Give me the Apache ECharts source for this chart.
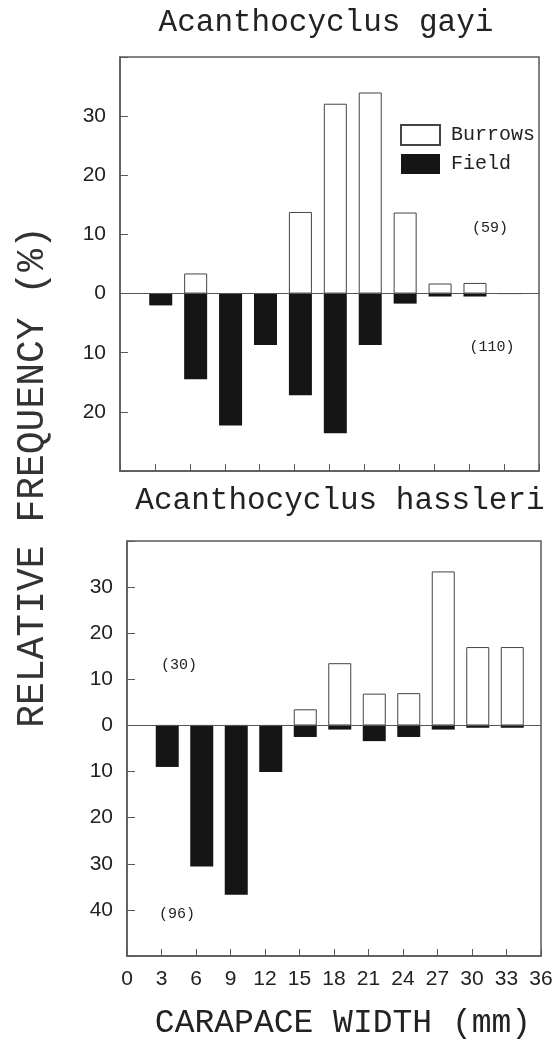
<!DOCTYPE html>
<html>
<head>
<meta charset="utf-8">
<script src="https://cdn.jsdelivr.net/npm/echarts@6/dist/echarts.min.js"></script>
<style>
  html, body { margin: 0; padding: 0; background: #fff; }
  #chart { width: 560px; height: 1042px; }
</style>
</head>
<body>
<div id="chart"></div>
<script>
// ---- data ----
const binMid = [3.5, 6.5, 9.5, 12.5, 15.5, 18.5, 21.5, 24.5, 27.5, 30.5, 33.5];   // carapace width class (mm)
const xTicks = [0, 3, 6, 9, 12, 15, 18, 21, 24, 27, 30, 33, 36];
// Acanthocyclus gayi (%)
const gayiBurrows = [0, 3.4, 0, 0, 13.8, 32.1, 34.0, 13.7, 1.7, 1.8, 0];
const gayiField   = [2.0, 14.5, 22.3, 8.7, 17.2, 23.6, 8.7, 1.7, 0.5, 0.5, 0];
// Acanthocyclus hassleri (%)
const hassBurrows = [0, 0, 0, 0, 3.5, 13.5, 6.9, 7.0, 33.4, 17.0, 17.0];
const hassField   = [9.0, 30.6, 36.7, 10.1, 2.5, 0.9, 3.4, 2.5, 0.9, 0.5, 0.5];
const titles = ['Acanthocyclus gayi', 'Acanthocyclus hassleri'];
const sampleSizes = { gayiBurrows: '(59)', gayiField: '(110)', hassBurrows: '(30)', hassField: '(96)' };
const xTitle = 'CARAPACE WIDTH (mm)';
const yTitle = 'RELATIVE FREQUENCY (%)';

const MONO = '"Liberation Mono", "DejaVu Sans Mono", monospace';
const SANS = '"Liberation Sans", Arial, sans-serif';
const TXT = '#222';
const LINE = '#5a5a5a';

const chart = echarts.init(document.getElementById('chart'), null, { renderer: 'canvas' });

function pos(arr) { return arr.map((v, i) => [binMid[i], v]); }
function neg(arr) { return arr.map((v, i) => [binMid[i], -v]); }

function yAxisCfg(gi, min, max) {
  return {
    type: 'value', gridIndex: gi, min: min, max: max, interval: 10,
    axisLine: { show: true, lineStyle: { color: LINE, width: 1.5 } },
    axisTick: { show: true, inside: true, length: 8, lineStyle: { color: LINE } },
    axisLabel: {
      margin: 14, color: TXT, fontFamily: SANS, fontSize: 21,
      formatter: v => (v === min || v === max) ? '' : String(Math.abs(v))
    },
    splitLine: { show: false }
  };
}
function xAxisCfg(gi, labels) {
  return {
    type: 'value', gridIndex: gi, min: 0, max: 36, interval: 3,
    axisLine: { show: true, onZero: false, lineStyle: { color: LINE, width: 1.5 } },
    axisTick: { show: true, inside: true, length: 7, lineStyle: { color: LINE } },
    axisLabel: { show: labels, margin: 13, color: TXT, fontFamily: SANS, fontSize: 21,
      formatter: v => xTicks.indexOf(v) >= 0 ? String(v) : '' },
    splitLine: { show: false }
  };
}
const zeroLine = {
  silent: true, symbol: ['none', 'none'],
  lineStyle: { color: '#555', width: 1, type: 'solid' },
  label: { show: false },
  data: [{ yAxis: 0 }]
};
function barSeries(name, data, xi, withZero) {
  const burrow = name === 'Burrows';
  const s = {
    name: name, type: 'bar', xAxisIndex: xi, yAxisIndex: xi,
    data: data, barWidth: 23, barGap: '-100%',
    itemStyle: burrow ? { color: '#ffffff', borderColor: '#444', borderWidth: 1 }
                      : { color: '#151515', borderColor: '#151515', borderWidth: 0 },
    emphasis: { disabled: true },
    animation: false
  };
  if (withZero) s.markLine = zeroLine;
  return s;
}

const option = {
  backgroundColor: '#ffffff',
  animation: false,
  grid: [
    { left: 120, right: 21, top: 57, height: 414, show: true, borderColor: LINE, borderWidth: 1.5, backgroundColor: 'transparent' },
    { left: 127, right: 19, top: 541, height: 415, show: true, borderColor: LINE, borderWidth: 1.5, backgroundColor: 'transparent' }
  ],
  xAxis: [xAxisCfg(0, false), xAxisCfg(1, true)],
  yAxis: [yAxisCfg(0, -30, 40), yAxisCfg(1, -50, 40)],
  legend: {
    data: ['Burrows', 'Field'], orient: 'vertical', left: 395, top: 119,
    itemWidth: 39, itemHeight: 20, itemGap: 8, icon: 'rect', selectedMode: false,
    textStyle: { fontFamily: MONO, fontSize: 20, color: TXT, padding: [0, 0, 0, 6] }
  },
  series: [
    barSeries('Burrows', pos(gayiBurrows), 0, true),
    barSeries('Field', neg(gayiField), 0, false),
    barSeries('Burrows', pos(hassBurrows), 1, true),
    barSeries('Field', neg(hassField), 1, false)
  ],
  graphic: [
    { type: 'text', x: 326, y: 23, style: { text: titles[0], font: '31px ' + MONO, fill: TXT, align: 'center', verticalAlign: 'middle' } },
    { type: 'text', x: 340, y: 501, style: { text: titles[1], font: '31px ' + MONO, fill: TXT, align: 'center', verticalAlign: 'middle' } },
    { type: 'text', x: 343, y: 1023, style: { text: xTitle, font: '33px ' + MONO, fill: TXT, align: 'center', verticalAlign: 'middle' } },
    { type: 'text', x: 33, y: 477, rotation: Math.PI / 2, style: { text: yTitle, font: '38px ' + MONO, fill: '#333', align: 'center', verticalAlign: 'middle' } },
    { type: 'text', x: 490, y: 228, style: { text: sampleSizes.gayiBurrows, font: '15px ' + MONO, fill: TXT, align: 'center', verticalAlign: 'middle' } },
    { type: 'text', x: 492, y: 347, style: { text: sampleSizes.gayiField, font: '15px ' + MONO, fill: TXT, align: 'center', verticalAlign: 'middle' } },
    { type: 'text', x: 179, y: 665, style: { text: sampleSizes.hassBurrows, font: '15px ' + MONO, fill: TXT, align: 'center', verticalAlign: 'middle' } },
    { type: 'text', x: 177, y: 914, style: { text: sampleSizes.hassField, font: '15px ' + MONO, fill: TXT, align: 'center', verticalAlign: 'middle' } }
  ]
};
chart.setOption(option);
</script>
</body>
</html>
